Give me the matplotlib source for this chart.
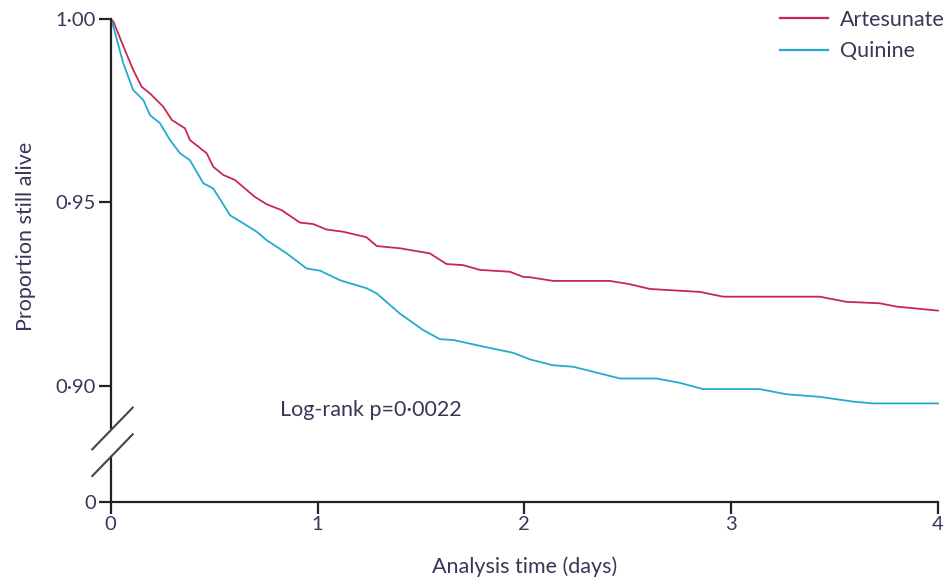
import matplotlib.pyplot as plt
from matplotlib.lines import Line2D

plt.rcParams['font.family'] = ['Lato', 'DejaVu Sans']

# Kaplan-Meier curves (time in days, proportion alive)
art_t = [0, 0.013, 0.069, 0.109, 0.150, 0.190, 0.254, 0.295, 0.359, 0.383, 0.464,
         0.496, 0.544, 0.601, 0.697, 0.754, 0.826, 0.915, 0.979, 1.044, 1.124,
         1.237, 1.286, 1.398, 1.543, 1.624, 1.704, 1.785, 1.930, 1.994, 2.027,
         2.139, 2.413, 2.510, 2.607, 2.849, 2.961, 3.428, 3.557, 3.718, 3.799, 4.0]
art_s = [1.0, 0.9993, 0.9915, 0.9861, 0.9815, 0.9797, 0.9761, 0.9725, 0.9702, 0.9670, 0.9634,
         0.9597, 0.9575, 0.9561, 0.9515, 0.9495, 0.9479, 0.9445, 0.9441, 0.9426, 0.9420,
         0.9405, 0.9381, 0.9375, 0.9361, 0.9332, 0.9329, 0.9316, 0.9311, 0.9297, 0.9296,
         0.9286, 0.9286, 0.9277, 0.9264, 0.9256, 0.9243, 0.9243, 0.9229, 0.9225, 0.9216, 0.9205]

qui_t = [0, 0.013, 0.061, 0.109, 0.158, 0.190, 0.238, 0.287, 0.335, 0.383, 0.448,
         0.496, 0.577, 0.641, 0.706, 0.754, 0.851, 0.947, 1.012, 1.108, 1.237,
         1.286, 1.398, 1.511, 1.592, 1.656, 1.817, 1.946, 2.027, 2.139, 2.236,
         2.462, 2.639, 2.752, 2.864, 3.138, 3.267, 3.428, 3.589, 3.686, 4.0]
qui_s = [1.0, 0.9979, 0.9879, 0.9806, 0.9779, 0.9738, 0.9716, 0.9670, 0.9634, 0.9615, 0.9552,
         0.9538, 0.9465, 0.9443, 0.9420, 0.9397, 0.9361, 0.9320, 0.9314, 0.9288, 0.9266,
         0.9252, 0.9197, 0.9152, 0.9127, 0.9125, 0.9105, 0.9090, 0.9072, 0.9056, 0.9052,
         0.9020, 0.9020, 0.9008, 0.8991, 0.8991, 0.8977, 0.8970, 0.8957, 0.8952, 0.8952]

upper_ticks = [0.90, 0.95, 1.00]
upper_labels = ['0·90', '0·95', '1·00']
x_ticks = [0, 1, 2, 3, 4]

RED = '#c8284f'
CYAN = '#25a9cf'
TXT = '#3b3558'
AX = '#222222'
FS = 15.5

W, H = 948, 580
fig = plt.figure(figsize=(W / 100, H / 100), dpi=100)

def fx(px):
    return px / W

def fy(py):
    return 1 - py / H

x0, x1 = 110.7, 938.0
ax = fig.add_axes([fx(x0), fy(428), fx(x1 - x0), (428 - 19) / H])
axb = fig.add_axes([fx(x0), fy(501.7), fx(x1 - x0), (501.7 - 457) / H])

ax.plot(art_t, art_s, color=RED, lw=1.3, label='Artesunate', clip_on=False)
ax.plot(qui_t, qui_s, color=CYAN, lw=1.3, label='Quinine', clip_on=False)

ax.set_xlim(0, 4)
ax.set_ylim(0.8885, 1.0)
ax.set_yticks(upper_ticks)
ax.set_yticklabels(upper_labels)
ax.set_xticks([])
for s in ['top', 'right', 'bottom']:
    ax.spines[s].set_visible(False)

axb.set_xlim(0, 4)
axb.set_ylim(0, 1)
axb.set_yticks([0])
axb.set_yticklabels(['0'])
axb.set_xticks(x_ticks)
axb.set_xticklabels([str(v) for v in x_ticks])
for s in ['top', 'right']:
    axb.spines[s].set_visible(False)

for a in (ax, axb):
    for s in ['left', 'bottom']:
        a.spines[s].set_linewidth(1.6)
        a.spines[s].set_color(AX)
    a.tick_params(axis='both', direction='out', length=8.5, width=1.6, color=AX,
                  labelsize=14.5, labelcolor=TXT, pad=2)
    a.patch.set_alpha(0)

axb.set_xlabel('Analysis time (days)', fontsize=FS, color=TXT, labelpad=17)
fig.text(fx(26), fy(236), 'Proportion still alive', rotation=90, fontsize=FS,
         color=TXT, ha='center', va='center')

ax.text(fx(280), fy(410), 'Log-rank p=0·0022', transform=fig.transFigure,
        fontsize=FS, color=TXT, ha='left', va='center')

# axis break marks
for y0 in (449.3, 476.0):
    fig.add_artist(Line2D([fx(92.3), fx(132.7)], [fy(y0), fy(y0 - 41.7)],
                          color='#444444', lw=1.5))

handles = [Line2D([], [], color=RED, lw=1.6), Line2D([], [], color=CYAN, lw=1.6)]
fig.legend(handles, ['Artesunate', 'Quinine'], loc='upper left',
           bbox_to_anchor=(fx(771), fy(1)), frameon=False, fontsize=FS,
           labelcolor=TXT, handlelength=2.23, handletextpad=0.56, labelspacing=0.55,
           borderaxespad=0)

fig.savefig('out.png', dpi=100)
